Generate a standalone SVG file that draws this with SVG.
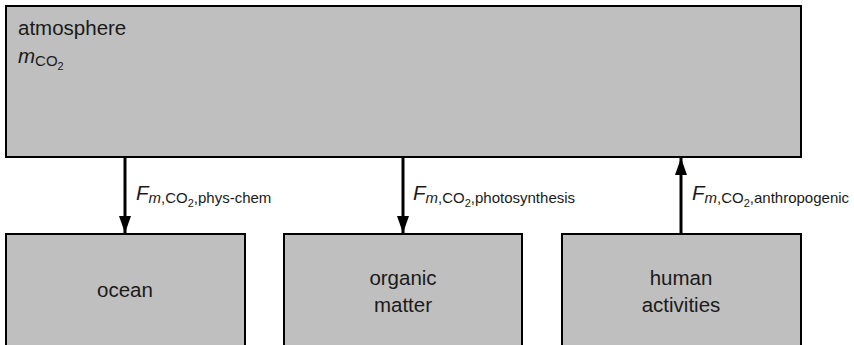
<svg xmlns="http://www.w3.org/2000/svg" width="854" height="345" viewBox="0 0 854 345">
  <defs>
    <marker id="head" viewBox="0 0 17 12" refX="17" refY="6" markerWidth="17" markerHeight="12" markerUnits="userSpaceOnUse" orient="auto">
      <path d="M0,0 L17,6 L0,12 Z" fill="#000"/>
    </marker>
    <style>
      .box { fill: #bfbfbf; stroke: #000; stroke-width: 2; }
      .txt { font-family: "Liberation Sans", Arial, sans-serif; font-size: 20.5px; fill: #1a1a1a; }
      .sub { font-size: 15px; }
      .sub2 { font-size: 11px; }
      .it { font-style: italic; }
      .flow { stroke: #000; stroke-width: 3; fill: none; }
    </style>
  </defs>
  <rect width="854" height="345" fill="#fff"/>

  <g id="atmosphere">
    <rect class="box" x="6" y="6" width="795" height="151"/>
    <text class="txt" x="18" y="35">atmosphere</text>
    <text class="txt" x="18" y="63"><tspan class="it">m</tspan><tspan class="sub" dy="3">CO</tspan><tspan class="sub2" dy="4">2</tspan></text>
  </g>

  <g id="ocean">
    <rect class="box" x="6" y="234" width="239" height="130"/>
    <text class="txt" x="125" y="297" text-anchor="middle">ocean</text>
  </g>

  <g id="organic-matter">
    <rect class="box" x="284" y="234" width="238" height="130"/>
    <text class="txt" x="403" y="285" text-anchor="middle">organic</text>
    <text class="txt" x="403" y="312" text-anchor="middle">matter</text>
  </g>

  <g id="human-activities">
    <rect class="box" x="562" y="234" width="239" height="130"/>
    <text class="txt" x="681" y="285" text-anchor="middle">human</text>
    <text class="txt" x="681" y="312" text-anchor="middle">activities</text>
  </g>

  <g id="connectors">
    <line class="flow" x1="125" y1="158" x2="125" y2="233" marker-end="url(#head)"/>
    <line class="flow" x1="403" y1="158" x2="403" y2="233" marker-end="url(#head)"/>
    <line class="flow" x1="681" y1="233" x2="681" y2="158" marker-end="url(#head)"/>
    <text class="txt" x="136" y="200"><tspan class="it">F</tspan><tspan class="sub" dy="3"><tspan class="it">m</tspan>,CO</tspan><tspan class="sub2" dy="4">2</tspan><tspan class="sub" dy="-4">,phys-chem</tspan></text>
    <text class="txt" x="413" y="200"><tspan class="it">F</tspan><tspan class="sub" dy="3"><tspan class="it">m</tspan>,CO</tspan><tspan class="sub2" dy="4">2</tspan><tspan class="sub" dy="-4">,photosynthesis</tspan></text>
    <text class="txt" x="692" y="200"><tspan class="it">F</tspan><tspan class="sub" dy="3"><tspan class="it">m</tspan>,CO</tspan><tspan class="sub2" dy="4">2</tspan><tspan class="sub" dy="-4">,anthropogenic</tspan></text>
  </g>
</svg>
